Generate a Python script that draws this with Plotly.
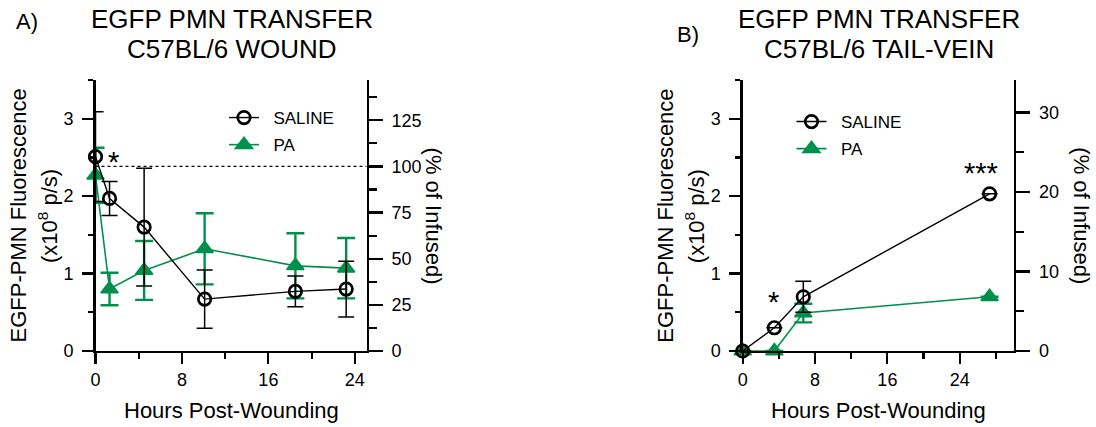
import plotly.graph_objects as go

# ---------------- data ----------------
A_hours = [0, 1.3, 4.5, 10.1, 18.5, 23.2]
A_saline = [2.51, 1.97, 1.60, 0.67, 0.77, 0.80]
A_saline_err = [0.58, 0.22, 0.76, 0.375, 0.20, 0.36]
A_pa = [2.27, 0.80, 1.04, 1.32, 1.10, 1.07]
A_pa_err = [0.355, 0.21, 0.38, 0.46, 0.42, 0.39]

B_hours = [0, 3.5, 6.7, 27.3]
B_saline = [0, 0.30, 0.70, 2.03]
B_saline_err = [None, None, 0.20, None]
B_pa = [0, 0, 0.49, 0.70]
B_pa_err = [None, None, 0.12, None]

ref_hours = [0, 25.1]
ref_pct = [100, 100]

x_ticks = [0, 8, 16, 24]
y_ticks = [0, 1, 2, 3]
A_pct_ticks = [0, 25, 50, 75, 100, 125]
B_pct_ticks = [0, 10, 20, 30]

GREEN = "#00904C"
BLACK = "#000000"
FONT = "Liberation Sans, Arial, sans-serif"

W, H = 1096, 427
def px(x): return x / W
def py(y): return 1 - y / H

A_dom = [px(95.5), px(366.7)]
B_dom = [px(742.7), px(1014)]
Y_dom = [py(351), py(80)]

fig = go.Figure()

def add_series(x, y, err, name, color, xa, ya, legend, rank, is_pa):
    if is_pa:
        marker = dict(symbol="triangle-up", size=15, color=color,
                      line=dict(color=color, width=1.5))
        line = dict(color=color, width=1.6)
        ebar = dict(type="data", array=err, visible=True, color=color,
                    thickness=2.4, width=9)
    else:
        marker = dict(symbol="circle-open", size=12.5, color=color,
                      line=dict(color=color, width=2.7))
        line = dict(color=color, width=1.4)
        ebar = dict(type="data", array=err, visible=True, color=color,
                    thickness=1.5, width=8)
    fig.add_trace(go.Scatter(
        x=x, y=y, name="\u00a0\u00a0" + name, mode="lines+markers",
        marker=marker, line=line, error_y=ebar, xaxis=xa, yaxis=ya,
        legend=legend, legendrank=rank, legendgroup=legend + name,
        cliponaxis=False))

# panel A (PA first so SALINE sits on top)
add_series(A_hours, A_pa, A_pa_err, "PA", GREEN, "x", "y", "legend", 2, True)
add_series(A_hours, A_saline, A_saline_err, "SALINE", BLACK, "x", "y", "legend", 1, False)
# panel B
add_series(B_hours, B_pa, B_pa_err, "PA", GREEN, "x2", "y3", "legend2", 2, True)
add_series(B_hours, B_saline, B_saline_err, "SALINE", BLACK, "x2", "y3", "legend2", 1, False)

# 100% reference line on panel A right axis
fig.add_trace(go.Scatter(x=ref_hours, y=ref_pct, mode="lines",
                         line=dict(color=BLACK, width=1.2, dash="dot"),
                         xaxis="x", yaxis="y2", showlegend=False,
                         hoverinfo="skip"))
# invisible anchor for panel B right axis
fig.add_trace(go.Scatter(x=[None], y=[None], xaxis="x2", yaxis="y4",
                         showlegend=False, hoverinfo="skip"))

tickfont = dict(family=FONT, size=18, color=BLACK)
axis_common = dict(showgrid=False, zeroline=False, showline=True,
                   linecolor=BLACK, linewidth=2.3, ticks="outside",
                   tickcolor=BLACK, tickwidth=2.2, tickfont=tickfont,
                   fixedrange=True, automargin=False)

def xaxis(dom, rng, anchor):
    return dict(domain=dom, range=rng, anchor=anchor, tickvals=x_ticks,
                ticklen=11, ticklabelstandoff=0,
                minor=dict(dtick=4, tick0=0, ticks="outside", ticklen=6,
                           tickwidth=2.2, tickcolor=BLACK),
                **axis_common)

def yleft(rng, anchor):
    return dict(domain=Y_dom, range=rng, anchor=anchor, tickvals=y_ticks,
                ticklen=11, ticklabelstandoff=5,
                minor=dict(dtick=0.5, tick0=0, ticks="outside", ticklen=5,
                           tickwidth=2.2, tickcolor=BLACK),
                **axis_common)

def yright(rng, anchor, over, ticks, minor):
    return dict(domain=Y_dom, range=rng, anchor=anchor, overlaying=over,
                side="right", tickvals=ticks, ticklen=14, ticklabelstandoff=5,
                minor=dict(dtick=minor, tick0=0, ticks="outside", ticklen=8,
                           tickwidth=2.2, tickcolor=BLACK),
                **axis_common)

fig.update_layout(
    template="none",
    width=W, height=H, autosize=False,
    margin=dict(l=0, r=0, t=0, b=0, autoexpand=False),
    paper_bgcolor="white", plot_bgcolor="white",
    font=dict(family=FONT, color=BLACK),
    xaxis=xaxis(A_dom, [0, 25.1], "y"),
    yaxis=yleft([0, 3.5], "x"),
    yaxis2=yright([0, 146.8], "x", "y", A_pct_ticks, 12.5),
    xaxis2=xaxis(B_dom, [0, 30], "y3"),
    yaxis3=yleft([0, 3.5], "x2"),
    yaxis4=yright([0, 34.08], "x2", "y3", B_pct_ticks, 5),
    legend=dict(x=px(224), y=py(100), xanchor="left", yanchor="top",
                bgcolor="rgba(0,0,0,0)", borderwidth=0,
                font=dict(family=FONT, size=17, color=BLACK),
                traceorder="grouped", tracegroupgap=2),
    legend2=dict(x=px(791.5), y=py(104), xanchor="left", yanchor="top",
                 bgcolor="rgba(0,0,0,0)", borderwidth=0,
                 font=dict(family=FONT, size=17, color=BLACK),
                 traceorder="grouped", tracegroupgap=2),
    showlegend=True,
)

ann = []
def text(x, y, s, size, angle=0, xanchor="center", yanchor="middle"):
    ann.append(dict(x=px(x), y=py(y), xref="paper", yref="paper", text=s,
                    showarrow=False, textangle=angle, xanchor=xanchor,
                    yanchor=yanchor, font=dict(family=FONT, size=size, color=BLACK)))

# titles
text(232, 19, "EGFP PMN TRANSFER", 26)
text(232, 49, "C57BL/6 WOUND", 26)
text(879, 19, "EGFP PMN TRANSFER", 26)
text(879, 49, "C57BL/6 TAIL-VEIN", 26)
text(27, 21, "A)", 22)
text(688, 35, "B)", 22)

# axis titles
for ax0, ax1 in [(95.5, 366.7), (742.7, 1014)]:
    text(ax0 - 78, 216, "EGFP-PMN Fluorescence", 22, angle=-90)
    text(ax0 - 47.5, 216, "(x10<sup>8</sup> p/s)", 22, angle=-90)
    text(ax1 + 67.7, 216, "(% of Infused)", 22, angle=90)
    text((ax0 + ax1) / 2, 410, "Hours Post-Wounding", 22)

# significance marks
text(113.5, 162, "*", 29)
text(773.5, 302, "*", 29)
text(980.5, 173, "***", 29)

fig.update_layout(annotations=ann)
fig.write_html("out.html",
               config={"displayModeBar": False, "staticPlot": True},
               post_script="document.body.style.margin='0';"
                           "document.body.style.padding='0';"
                           "document.body.style.overflow='hidden';")
